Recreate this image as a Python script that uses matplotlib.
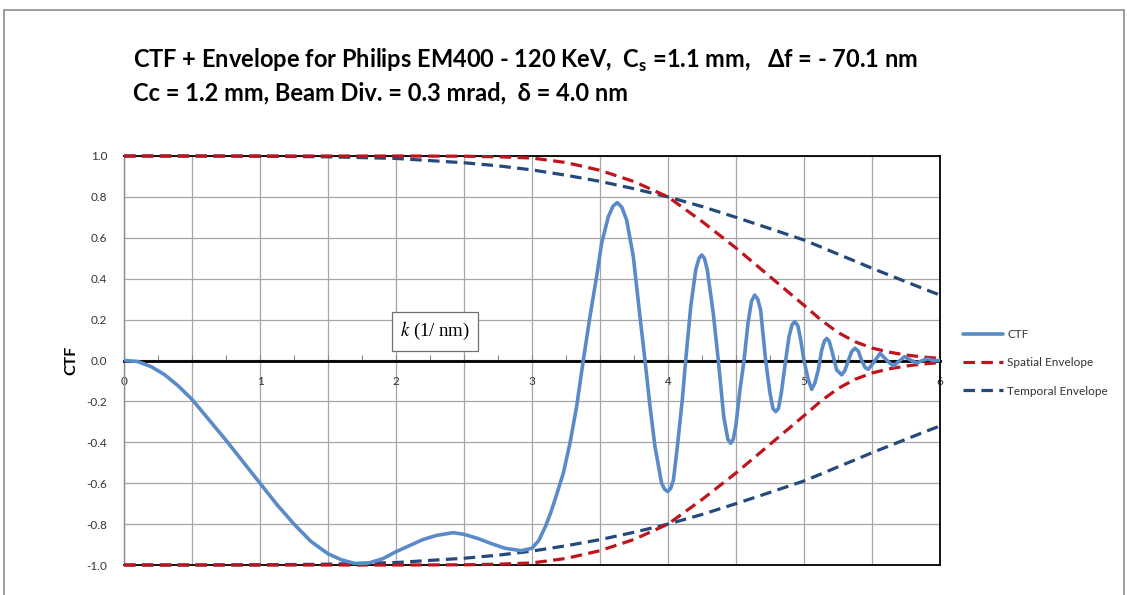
import matplotlib
matplotlib.use("Agg")
import matplotlib.pyplot as plt
from matplotlib.patches import Rectangle
from matplotlib.ticker import MultipleLocator, FuncFormatter

# ---------------- data ----------------
k_ctf = [0.00, 0.10, 0.20, 0.30, 0.40, 0.50, 0.625, 0.75, 0.875, 1.00,
         1.125, 1.25, 1.375, 1.50, 1.60, 1.70, 1.80, 1.90, 2.00, 2.10,
         2.20, 2.30, 2.42, 2.50, 2.60, 2.70, 2.80, 2.92, 3.00, 3.05,
         3.10, 3.14, 3.176, 3.23, 3.279, 3.328, 3.377, 3.426, 3.475, 3.512,
         3.561, 3.596, 3.627, 3.66, 3.696, 3.745, 3.794, 3.831, 3.868, 3.904,
         3.953, 3.975, 3.998, 4.02, 4.04, 4.069, 4.105, 4.13, 4.167, 4.204,
         4.228, 4.248, 4.268, 4.289, 4.333, 4.37, 4.41, 4.44, 4.461, 4.48,
         4.498, 4.529, 4.559, 4.588, 4.614, 4.637, 4.66, 4.681, 4.718, 4.75,
         4.772, 4.792, 4.812, 4.833, 4.865, 4.89, 4.912, 4.932, 4.955, 4.976,
         5.00, 5.03, 5.056, 5.08, 5.105, 5.13, 5.15, 5.167, 5.185, 5.204,
         5.24, 5.277, 5.30, 5.326, 5.352, 5.375, 5.40, 5.424, 5.45, 5.473,
         5.50, 5.522, 5.56, 5.61, 5.656, 5.706, 5.74, 5.79, 5.83, 5.87,
         5.91, 5.95, 6.00]
ctf = [0.00, -0.005, -0.03, -0.07, -0.125, -0.19, -0.29, -0.39, -0.495, -0.60,
       -0.705, -0.80, -0.885, -0.945, -0.975, -0.993, -0.99, -0.97, -0.935, -0.905,
       -0.875, -0.855, -0.842, -0.85, -0.87, -0.895, -0.918, -0.93, -0.918, -0.88,
       -0.81, -0.74, -0.666, -0.552, -0.405, -0.226, 0.0, 0.214, 0.41, 0.573,
       0.703, 0.755, 0.772, 0.75, 0.687, 0.508, 0.214, 0.0, -0.226, -0.42,
       -0.60, -0.63, -0.641, -0.625, -0.584, -0.42, -0.193, 0.0, 0.263, 0.443,
       0.50, 0.516, 0.50, 0.443, 0.23, 0.0, -0.275, -0.385, -0.405, -0.385,
       -0.323, -0.144, 0.0, 0.182, 0.29, 0.32, 0.30, 0.247, 0.0, -0.16,
       -0.235, -0.25, -0.235, -0.16, 0.0, 0.117, 0.175, 0.19, 0.17, 0.10,
       0.0, -0.09, -0.141, -0.11, -0.046, 0.05, 0.095, 0.108, 0.095, 0.05,
       -0.046, -0.07, -0.05, 0.0, 0.045, 0.06, 0.045, 0.0, -0.035, -0.043,
       -0.02, 0.0, 0.035, 0.0, -0.027, 0.0, 0.019, 0.0, -0.012, 0.0,
       0.008, 0.0, 0.0]

k_env = [0.0, 0.5, 1.0, 1.5, 2.0, 2.5, 2.75, 3.0, 3.25, 3.5,
         3.75, 4.0, 4.25, 4.5, 4.75, 5.0, 5.125, 5.25, 5.375, 5.5,
         5.625, 5.75, 5.875, 6.0]
spatial = [1.0, 1.0, 1.0, 1.0, 1.0, 0.999, 0.996, 0.99, 0.968, 0.93,
           0.875, 0.80, 0.68, 0.55, 0.41, 0.27, 0.198, 0.137, 0.092, 0.061,
           0.041, 0.027, 0.017, 0.01]
temporal = [1.0, 1.0, 0.999, 0.996, 0.988, 0.967, 0.952, 0.932, 0.906, 0.876,
            0.84, 0.80, 0.753, 0.70, 0.645, 0.589, 0.555, 0.52, 0.486, 0.451,
            0.418, 0.385, 0.352, 0.32]

title_line1 = "CTF + Envelope for Philips EM400 - 120 KeV,  C$_\\mathbf{s}$ =1.1 mm,   \u0394f = - 70.1 nm"
title_line2 = "Cc = 1.2 mm, Beam Div. = 0.3 mrad,  \u03b4 = 4.0 nm"
legend_labels = ["CTF", "Spatial Envelope", "Temporal Envelope"]

# ---------------- style ----------------
plt.rcParams["font.family"] = ["Lato", "DejaVu Sans"]
plt.rcParams["mathtext.fontset"] = "custom"
plt.rcParams["mathtext.bf"] = "Lato:bold"
plt.rcParams["mathtext.rm"] = "Lato"

W, H = 1127, 595
fig = plt.figure(figsize=(W / 100, H / 100), dpi=100)

# outer chart-area border
fig.patches.append(Rectangle((4 / W, -0.05), 1120 / W, 1 - 10 / H + 0.05,
                             transform=fig.transFigure, fill=False,
                             edgecolor="#8c8c8c", linewidth=1.2))

ax = fig.add_axes([124 / W, 1 - 565 / H, 816 / W, 409 / H])

c_ctf = "#5A8AC8"
c_sp = "#C0141C"
c_tp = "#24497A"
dash = (0, (3.6, 2.0))

ax.plot(k_ctf, ctf, color=c_ctf, lw=2.6, solid_joinstyle="round",
        solid_capstyle="round", label=legend_labels[0], zorder=5)
ax.plot(k_env, spatial, color=c_sp, lw=2.3, ls=dash, label=legend_labels[1],
        clip_on=False, zorder=4)
ax.plot(k_env, temporal, color=c_tp, lw=2.3, ls=dash, label=legend_labels[2],
        clip_on=False, zorder=3)
ax.plot(k_env, [-v for v in spatial], color=c_sp, lw=2.3, ls=dash,
        clip_on=False, zorder=4)
ax.plot(k_env, [-v for v in temporal], color=c_tp, lw=2.3, ls=dash,
        clip_on=False, zorder=3)

ax.set_xlim(0, 6)
ax.set_ylim(-1, 1)

# axes styling
ax.spines["bottom"].set_position(("data", 0))
ax.spines["bottom"].set_color("black")
ax.spines["bottom"].set_linewidth(2.0)
ax.spines["bottom"].set_zorder(2.5)
for s in ("top", "right"):
    ax.spines[s].set_color("black")
    ax.spines[s].set_linewidth(1.3)
ax.spines["left"].set_color("#8c8c8c")
ax.spines["left"].set_linewidth(1.0)
ax.axhline(-1, color="black", lw=1.3, clip_on=False, zorder=2.4)

ax.xaxis.set_major_locator(MultipleLocator(0.5))
ax.xaxis.set_minor_locator(MultipleLocator(0.25))
ax.xaxis.set_major_formatter(FuncFormatter(
    lambda v, p: "%d" % round(v) if abs(v - round(v)) < 1e-6 else ""))
ax.tick_params(axis="x", which="major", direction="in", length=4, width=0.8,
               color="#888888", pad=11, labelsize=8.5, labelcolor="#333333")
ax.tick_params(axis="x", which="minor", direction="in", length=4, width=0.8,
               color="#888888")
ax.yaxis.set_major_locator(MultipleLocator(0.2))
ax.yaxis.set_major_formatter(FuncFormatter(lambda v, p: "%.1f" % v))
ax.tick_params(axis="y", length=0, pad=12, labelsize=8.5, labelcolor="#333333")
ax.grid(True, which="major", color="#A6A6A6", lw=0.9)
ax.set_axisbelow(True)

ax.set_ylabel("CTF", fontsize=11.5, fontweight="bold", labelpad=6)

# k (1/nm) box
ax.text(0.381, 0.572, "$\\it{k}$ (1/ nm)", transform=ax.transAxes,
        ha="center", va="center", fontsize=13.5,
        family=["Liberation Serif", "DejaVu Serif"], math_fontfamily="stix",
        bbox=dict(boxstyle="square,pad=0.45", fc="white", ec="#707070", lw=0.9),
        zorder=6)

# title
fig.text(133 / W, 1 - 60 / H, title_line1, fontsize=17, fontweight="bold",
         ha="left", va="center", color="black")
fig.text(133 / W, 1 - 93 / H, title_line2, fontsize=17, fontweight="bold",
         ha="left", va="center", color="black")

# legend
fig.legend(loc="center left", bbox_to_anchor=(952 / W, 1 - 363 / H),
           frameon=False, fontsize=8.5, handlelength=3.4, handletextpad=0.4,
           labelspacing=1.45, labelcolor="#333333")

fig.savefig("out.png", dpi=100)
